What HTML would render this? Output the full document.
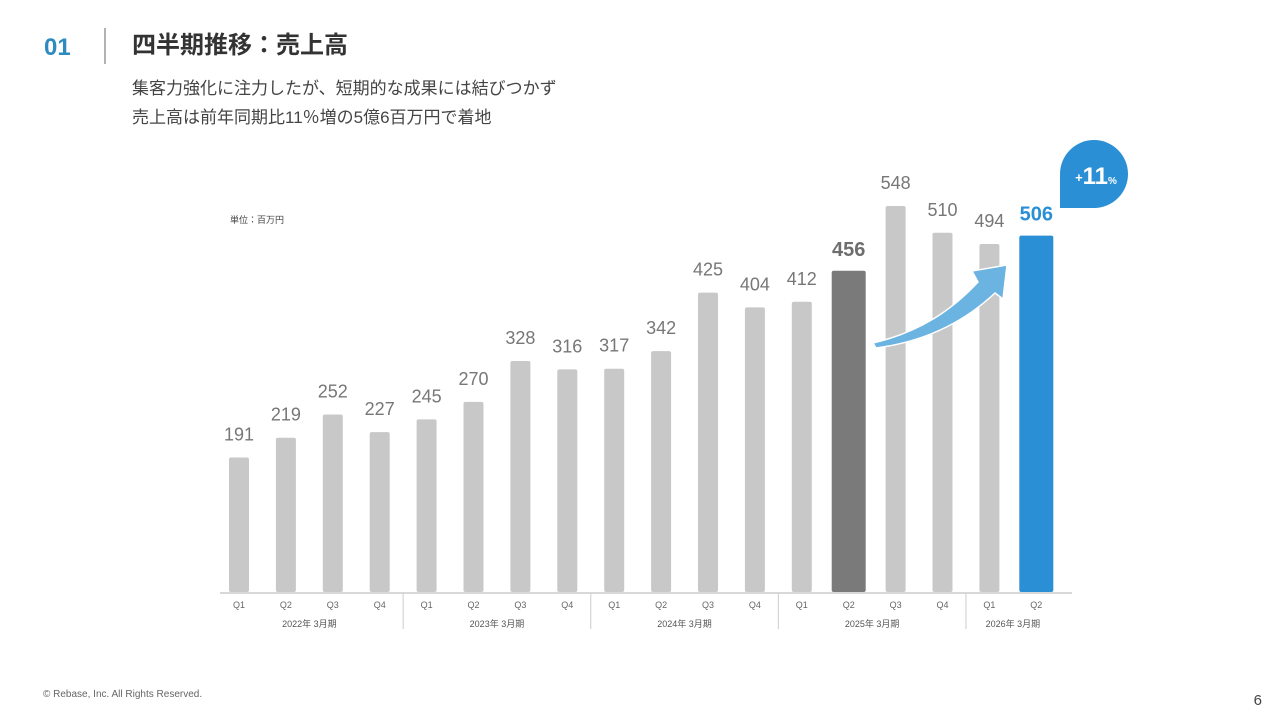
<!DOCTYPE html>
<html><head><meta charset="utf-8">
<style>
body{margin:0;background:#fff;width:1280px;height:720px;overflow:hidden;font-family:"Liberation Sans","Noto Sans CJK JP",sans-serif;}
svg{display:block}
</style></head>
<body>
<svg id="chart" width="1280" height="720" viewBox="0 0 1280 720" xmlns="http://www.w3.org/2000/svg" font-family="Liberation Sans, Noto Sans CJK JP, sans-serif">
<text x="44" y="55" font-size="24" font-weight="bold" fill="#2e8bc0">01</text>
<line x1="105" y1="28" x2="105" y2="64" stroke="#999" stroke-width="1.5"/>
<text x="132" y="53" font-size="24" font-weight="bold" fill="#333">四半期推移：売上高</text>
<text x="132" y="94" font-size="17" fill="#444">集客力強化に注力したが、短期的な成果には結びつかず</text>
<text x="132" y="123" font-size="17" fill="#444">売上高は前年同期比11％増の5億6百万円で着地</text>
<text x="230" y="223" font-size="9" fill="#444">単位：百万円</text>
<g id="bars"></g>
<line x1="220" y1="593" x2="1072" y2="593" stroke="#ccc" stroke-width="1.5"/>
<g id="axis"></g>
<path d="M873,343 C920,332 952,310 978,282 L972,271 L1007,265 L1003,299 L995,293 C962,324 922,342 876,348 Z" fill="#6bb3e0" stroke="#fff" stroke-width="1.5"/>
<path d="M1060,208 L1060,174 A34,34 0 1 1 1094,208 Z" fill="#2a8fd4"/>
<text x="1096" y="184" text-anchor="middle" fill="#fff" font-weight="bold"><tspan font-size="13" dy="-2">+</tspan><tspan font-size="24" dy="2">11</tspan><tspan font-size="10">%</tspan></text>
<text x="43" y="697" font-size="10" fill="#666">© Rebase, Inc. All Rights Reserved.</text>
<text x="1262" y="705" font-size="15" fill="#444" text-anchor="end">6</text>
</svg>
<script>
const quarters=["Q1","Q2","Q3","Q4","Q1","Q2","Q3","Q4","Q1","Q2","Q3","Q4","Q1","Q2","Q3","Q4","Q1","Q2"];
const revenue=[191,219,252,227,245,270,328,316,317,342,425,404,412,456,548,510,494,506];
const fiscalYears=["2022年 3月期","2023年 3月期","2024年 3月期","2025年 3月期","2026年 3月期"];
const yearSizes=[4,4,4,4,2];
const highlightGray=13, highlightBlue=17;
const NS="http://www.w3.org/2000/svg";
const x0=239, step=46.9, base=592, k=386/548;
const xs=i=>x0+i*step;
const ys=v=>base-v*k;
const bars=document.getElementById('bars'), axis=document.getElementById('axis');
function el(t,a,p){const e=document.createElementNS(NS,t);for(const n in a)e.setAttribute(n,a[n]);p.appendChild(e);return e;}
revenue.forEach((v,i)=>{
  const hl=(i===highlightGray||i===highlightBlue);
  const w=hl?34:20;
  const col=i===highlightGray?"#7a7a7a":(i===highlightBlue?"#2a8fd4":"#c8c8c8");
  const r=el('rect',{x:xs(i)-w/2,y:ys(v),width:w,height:base-ys(v),rx:2,fill:col},bars);
  
  
  const t=el('text',{x:xs(i),y:ys(v)-(hl?15:17),'text-anchor':'middle','font-size':hl?20:18,'font-weight':hl?'bold':'normal',fill:i===highlightBlue?"#2a8fd4":(hl?"#6e6e6e":"#777")},bars);
  t.textContent=v;
  
  
  const q=el('text',{x:xs(i),y:608,'text-anchor':'middle','font-size':9,fill:'#666'},axis);
  q.textContent=quarters[i];
  
  
});
let start=0;
fiscalYears.forEach((y,j)=>{
  const end=start+yearSizes[j]-1;
  const t=el('text',{x:(xs(start)+xs(end))/2,y:627,'text-anchor':'middle','font-size':9,fill:'#555'},axis);
  t.textContent=y;
  
  
  if(j<fiscalYears.length-1){
    const sx=(xs(end)+xs(end+1))/2;
    const l=el('line',{x1:sx,y1:593,x2:sx,y2:629,stroke:'#ccc','stroke-width':1},axis);
    
    
  }
  start=end+1;
});
</script>
</body></html>
